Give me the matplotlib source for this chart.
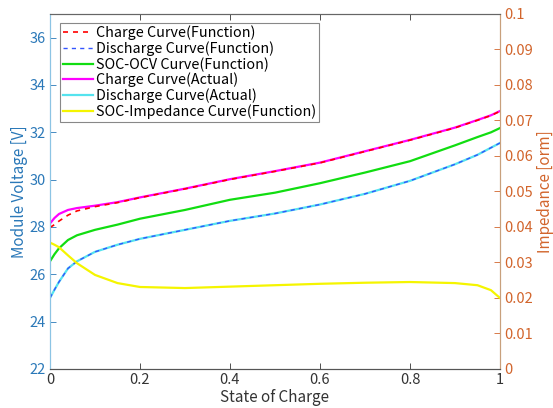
import matplotlib
matplotlib.use("Agg")
import matplotlib.pyplot as plt

plt.rcParams['font.family'] = ['Noto Sans CJK JP', 'DejaVu Sans']

# ---- data ----
soc = [0, 0.01, 0.02, 0.04, 0.06, 0.1, 0.15, 0.2, 0.3, 0.4, 0.5, 0.6, 0.7, 0.8, 0.9, 0.95, 0.98, 1.0]
charge_actual = [28.15, 28.38, 28.55, 28.72, 28.80, 28.90, 29.05, 29.25, 29.62, 30.02, 30.36, 30.72,
                 31.20, 31.68, 32.20, 32.52, 32.72, 32.90]
charge_func = [27.98, 28.10, 28.25, 28.50, 28.68, 28.86, 29.03, 29.24, 29.61, 30.01, 30.35, 30.71,
               31.19, 31.67, 32.19, 32.51, 32.71, 32.89]
ocv_func = [26.55, 26.85, 27.10, 27.45, 27.65, 27.88, 28.10, 28.35, 28.72, 29.15, 29.45, 29.85,
            30.30, 30.78, 31.45, 31.80, 32.00, 32.18]
discharge_actual = [25.00, 25.35, 25.68, 26.25, 26.55, 26.95, 27.25, 27.50, 27.88, 28.26, 28.57, 28.95,
                    29.40, 29.95, 30.65, 31.05, 31.35, 31.55]
discharge_func = list(discharge_actual)
impedance = [0.0356, 0.0350, 0.0343, 0.0320, 0.0298, 0.0265, 0.0242, 0.0231, 0.0228, 0.0232, 0.0236,
             0.0240, 0.0243, 0.0245, 0.0242, 0.0236, 0.0222, 0.0200]

labels = ['Charge Curve(Function)', 'Discharge Curve(Function)', 'SOC-OCV Curve(Function)',
          'Charge Curve(Actual)', 'Discharge Curve(Actual)', 'SOC-Impedance Curve(Function)']

xticks = [0, 0.2, 0.4, 0.6, 0.8, 1]
xticklabels = ['0', '0.2', '0.4', '0.6', '0.8', '1']
yticks_left = [22, 24, 26, 28, 30, 32, 34, 36]
yticks_right = [0, 0.01, 0.02, 0.03, 0.04, 0.05, 0.06, 0.07, 0.08, 0.09, 0.1]
yticklabels_right = ['0', '0.01', '0.02', '0.03', '0.04', '0.05', '0.06', '0.07', '0.08', '0.09', '0.1']

LEFT_C = '#2a78b8'
RIGHT_C = '#d2652c'

fig = plt.figure(figsize=(5.53, 4.08), dpi=100)
ax = fig.add_axes([0.0904, 0.0956, 0.8137, 0.8701])
ax2 = ax.twinx()

lw = 1.6
l4, = ax.plot(soc, charge_actual, color='#ff00ff', lw=lw, zorder=2)
l5, = ax.plot(soc, discharge_actual, color='#55e3ee', lw=lw, zorder=2)
l3, = ax.plot(soc, ocv_func, color='#11dd11', lw=lw, zorder=2)
l1, = ax.plot(soc, charge_func, color='#ff0000', lw=1.2, ls=(0, (3, 3)), zorder=3)
l2, = ax.plot(soc, discharge_func, color='#3355ff', lw=1.0, ls=(0, (3, 3)), zorder=3)
l6, = ax2.plot(soc, impedance, color='#f5f500', lw=lw)

ax.set_xlim(0, 1)
ax.set_ylim(22, 37)
ax2.set_ylim(0, 0.1)

ax.set_xticks(xticks)
ax.set_xticklabels(xticklabels)
ax.set_yticks(yticks_left)
ax2.set_yticks(yticks_right)
ax2.set_yticklabels(yticklabels_right)

ax.tick_params(axis='x', direction='in', top=True, length=4, width=0.6, colors='#333333',
               labelsize=10.5, pad=3)
ax.tick_params(axis='y', direction='in', length=4, width=0.6, colors=LEFT_C, labelsize=10.5, pad=3)
ax2.tick_params(axis='y', direction='in', length=4, width=0.6, colors=RIGHT_C, labelsize=10.5, pad=3)

for a in (ax, ax2):
    a.spines['top'].set_color('#666666')
    a.spines['bottom'].set_color('#555555')
    a.spines['left'].set_color('#8cc4e4')
    a.spines['right'].set_color('#c8a07c')
    for s in a.spines.values():
        s.set_linewidth(0.8)

ax.set_xlabel('State of Charge', fontsize=11, color='#333333', labelpad=1)
ax.set_ylabel('Module Voltage [V]', fontsize=11, color=LEFT_C, labelpad=1)
ax2.set_ylabel('Impedance [orm]', fontsize=11, color=RIGHT_C, labelpad=3)

leg = ax2.legend([l1, l2, l3, l4, l5, l6], labels, loc='upper left',
                 bbox_to_anchor=(0.022, 0.975), borderaxespad=0, fontsize=10.3,
                 labelspacing=0.07, handlelength=2.1, handletextpad=0.2,
                 borderpad=0.2, fancybox=False, framealpha=1, edgecolor='#888888')
leg.get_frame().set_linewidth(0.8)

fig.savefig('out.png', dpi=100)
